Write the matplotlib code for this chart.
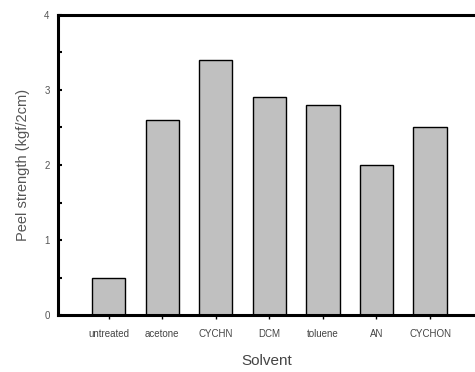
import numpy as np
import matplotlib.pyplot as plt
from matplotlib.ticker import MultipleLocator

solvents = ['untreated', 'acetone', 'CYCHN', 'DCM', 'toluene', 'AN', 'CYCHON']
peel = [0.5, 2.6, 3.4, 2.9, 2.8, 2.0, 2.5]

plt.rcParams['font.family'] = ['Liberation Sans', 'DejaVu Sans']

fig = plt.figure(figsize=(4.75, 3.72), dpi=100)
ax = fig.add_axes([0.122, 0.153, 0.878, 0.807])

x = np.arange(len(solvents))
ax.bar(x, peel, width=0.62, color='#c0c0c0', edgecolor='black', linewidth=1.0)

ax.set_xlim(-0.95, 6.84)
ax.set_ylim(0, 4)
ax.set_xticks(x)
ax.set_xticklabels(solvents, fontsize=7, color='#444444')
ax.yaxis.set_major_locator(MultipleLocator(1))
ax.yaxis.set_minor_locator(MultipleLocator(0.5))
ax.tick_params(axis='y', which='both', direction='in', length=3, width=1.5,
               labelsize=7, labelcolor='#555555', pad=6)
ax.tick_params(axis='x', direction='out', length=3, width=1, pad=7)

for s in ['left', 'top', 'bottom']:
    ax.spines[s].set_linewidth(2.2)
ax.spines['right'].set_visible(False)

ax.set_ylabel('Peel strength (kgf/2cm)', fontsize=10.5, color='#555555', labelpad=10)
ax.set_xlabel('Solvent', fontsize=11, color='#444444', labelpad=11)

fig.savefig('out.png', dpi=100)
